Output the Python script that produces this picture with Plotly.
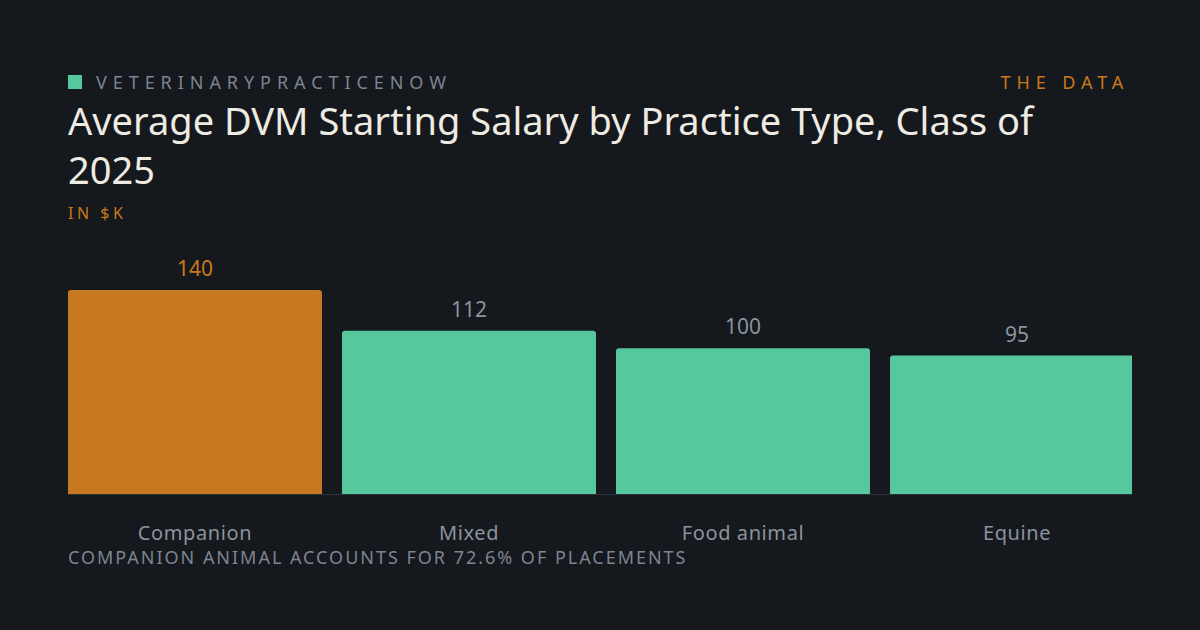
import plotly.graph_objects as go

categories = ["Companion", "Mixed", "Food animal", "Equine"]
salaries = [140, 112, 100, 95]
bar_colors = ["#c8781e", "#57c89d", "#57c89d", "#57c89d"]
label_colors = ["#c8781e", "#8b939d", "#8b939d", "#8b939d"]

W, H = 1200, 630
L, R, T, B = 68, 68, 250, 136
PH = H - T - B


def py(y):
    # pixel row -> paper y
    return 1 + (T - y) / PH


def px(x):
    return (x - L) / (W - L - R)


BG = "#15181d"
FONT = "Noto Sans"

fig = go.Figure()
fig.add_trace(go.Bar(
    x=list(range(len(categories))),
    y=salaries,
    width=254 / 274,
    marker=dict(color=bar_colors, line=dict(width=0), cornerradius=3),
    hoverinfo="skip",
))

# value labels above bars
for i, v in enumerate(salaries):
    fig.add_annotation(x=i, y=v, text=str(v), showarrow=False, yanchor="bottom", yshift=6,
                       font=dict(family=FONT, size=21, color=label_colors[i]))

# header
fig.add_shape(type="rect", xref="paper", yref="paper", x0=px(68), x1=px(82), y0=py(89), y1=py(75),
              fillcolor="#57c89d", line=dict(width=0))
fig.add_annotation(xref="paper", yref="paper", x=px(94), y=py(82), xanchor="left", yanchor="middle",
                   align="left", showarrow=False, text="VETERINARYPRACTICENOW",
                   font=dict(family=FONT, size=18, color="#7c8591"))
fig.add_annotation(xref="paper", yref="paper", x=px(1132), y=py(82), xanchor="right", yanchor="middle",
                   align="right", showarrow=False, text="THE DATA",
                   font=dict(family=FONT, size=18, color="#c8781e"))
fig.add_annotation(xref="paper", yref="paper", x=px(66), y=py(92), xanchor="left", yanchor="top",
                   align="left", showarrow=False,
                   text="Average DVM Starting Salary by Practice Type, Class of<br>2025",
                   font=dict(family=FONT, size=38, color="#eeebe3"))
fig.add_annotation(xref="paper", yref="paper", x=px(66), y=py(213), xanchor="left", yanchor="middle",
                   align="left", showarrow=False, text="IN $K",
                   font=dict(family=FONT, size=16, color="#c8781e"))
fig.add_annotation(xref="paper", yref="paper", x=px(66), y=py(557), xanchor="left", yanchor="middle",
                   align="left", showarrow=False, text="COMPANION ANIMAL ACCOUNTS FOR 72.6% OF PLACEMENTS",
                   font=dict(family=FONT, size=18, color="#7c8591"))

fig.update_layout(
    width=W, height=H,
    paper_bgcolor=BG, plot_bgcolor=BG,
    margin=dict(l=L, r=R, t=T, b=B),
    showlegend=False,
    xaxis=dict(range=[-127 / 274, (1132 - 195) / 274], tickvals=list(range(len(categories))),
               ticktext=categories, showgrid=False, zeroline=False, showline=True,
               linecolor="#2b323b", linewidth=1, ticks="", ticklabelstandoff=21,
               tickfont=dict(family=FONT, size=20, color="#8b939d")),
    yaxis=dict(range=[0, PH / (204 / 140)], visible=False, showgrid=False, zeroline=False),
)

spacing_js = """
document.body.style.margin = '0';
document.body.style.background = '#15181d';
var gd = document.getElementById('{plot_id}');
var sp = {'VETERINARYPRACTICENOW': '0.33em', 'THE DATA': '0.33em', 'IN $K': '0.22em',
          'COMPANION ANIMAL ACCOUNTS FOR 72.6% OF PLACEMENTS': '0.11em',
          'Companion': '0.03em', 'Mixed': '0.03em', 'Food animal': '0.03em', 'Equine': '0.03em'};
function applySpacing() {
  gd.querySelectorAll('text').forEach(function (t) {
    if (sp[t.textContent]) t.style.letterSpacing = sp[t.textContent];
  });
}
applySpacing();
gd.on('plotly_afterplot', applySpacing);
"""

fig.write_html("out.html", post_script=spacing_js, config={"displayModeBar": False})
